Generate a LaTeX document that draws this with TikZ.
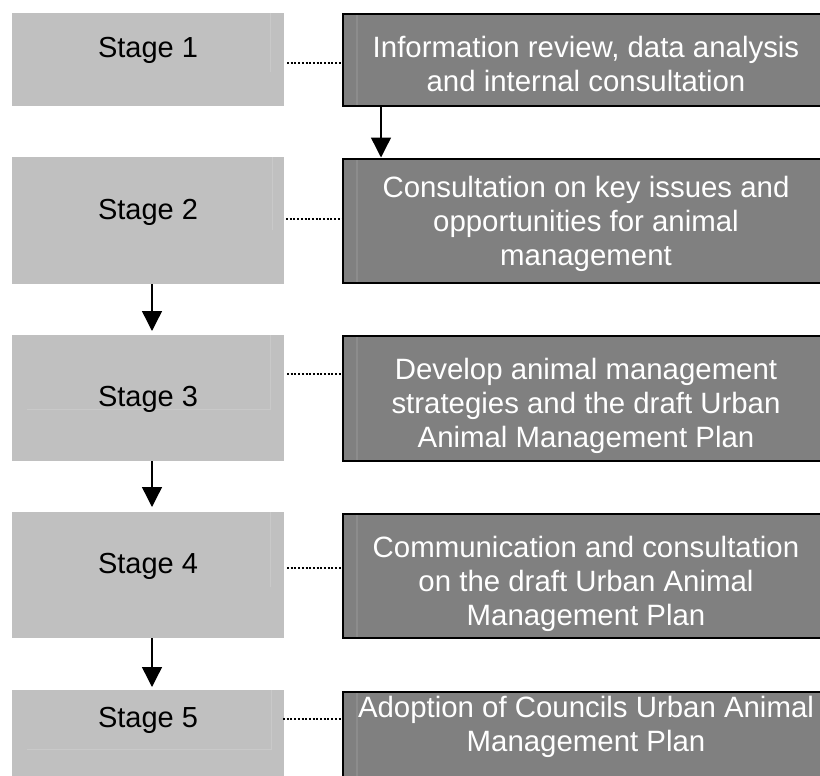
\documentclass[tikz,border=0pt]{standalone}
\usepackage{fontspec}
\setmainfont{Liberation Sans}
\usetikzlibrary{arrows.meta}
\definecolor{stagegray}{HTML}{C0C0C0}
\definecolor{boxgray}{HTML}{808080}
\definecolor{boxline}{HTML}{8C8C8C}
\definecolor{faintgray}{HTML}{C9C9C9}
\begin{document}
\begin{tikzpicture}[x=1pt,y=-1pt,
  stagebox/.style={fill=stagegray, draw=none, minimum width=272pt, inner sep=0pt, outer sep=0pt},
  darkbox/.style={fill=boxgray, draw=black, line width=2.6pt, minimum width=497pt, inner sep=0pt, outer sep=0pt},
  stagelabel/.style={font=\fontsize{29}{34}\selectfont, text=black, anchor=base, inner sep=0pt},
  darklabel/.style={font=\fontsize{29.4}{34}\selectfont, text=white, align=center, anchor=north, inner sep=0pt},
  flow/.style={line width=1.4pt, -{Triangle[width=20pt,length=20pt]}},
  dotlink/.style={line width=1.3pt, dash pattern=on 2pt off 1.7pt, draw=black},
  faint/.style={draw=faintgray, line width=0.8pt},
  innerline/.style={draw=boxline, line width=1.5pt, shorten <=1.3pt, shorten >=1.3pt}]
\useasboundingbox (0,0) rectangle (820,776);
\clip (0,0) rectangle (820,776);
\fill[white] (0,0) rectangle (820,776);

% stage boxes
\node[stagebox, minimum height=93pt]  (s1) at (148,59.5) {};
\node[stagebox, minimum height=127pt] (s2) at (148,220.5) {};
\node[stagebox, minimum height=126pt] (s3) at (148,398) {};
\node[stagebox, minimum height=126pt] (s4) at (148,575) {};
\node[stagebox, minimum height=130pt] (s5) at (148,755) {};

% faint inner edges in stage boxes
\draw[faint] (270,13) -- (270,72);
\draw[faint] (272,157) -- (272,230);
\draw[faint] (270,335) -- (270,409) -- (27,409);
\draw[faint] (270,512) -- (270,587);
\draw[faint] (271,690) -- (271,749) -- (27,749);

% dark boxes
\node[darkbox, minimum height=92pt]  (b1) at (591.5,60) {};
\node[darkbox, minimum height=124pt] (b2) at (591.5,221) {};
\node[darkbox, minimum height=125pt] (b3) at (591.5,398.5) {};
\node[darkbox, minimum height=124pt] (b4) at (591.5,576) {};
\node[darkbox, minimum height=138pt] (b5) at (591.5,761) {};

\coordinate (v) at (357,0);
\foreach \b in {b1,b2,b3,b4} {\draw[innerline] (v |- \b.north) -- (v |- \b.south);}
\draw[innerline, shorten >=0pt] (v |- b5.north) -- (v |- b5.south);

% labels
\node[stagelabel] (l1) at (148,58)  {Stage 1};
\node[stagelabel] (l2) at (148,219) {Stage 2};
\node[stagelabel] (l3) at (148,406) {Stage 3};
\node[stagelabel] (l4) at (148,573) {Stage 4};
\node[stagelabel] (l5) at (148,727) {Stage 5};

\node[darklabel] (t1) at (586,33.2)  {\strut Information review, data analysis\\and internal consultation};
\node[darklabel] (t2) at (586,173.2) {\strut Consultation on key issues and\\opportunities for animal\\management};
\node[darklabel] (t3) at (586,355.2) {\strut Develop animal management\\strategies and the draft Urban\\Animal Management Plan};
\node[darklabel] (t4) at (586,533.2) {\strut Communication and consultation\\on the draft Urban Animal\\Management Plan};
\node[darklabel] (t5) at (586,693.2) {\strut Adoption of Councils Urban Animal\\Management Plan};

% dotted links
\coordinate (p1) at (287,63);
\coordinate (p2) at (286,219);
\coordinate (p3) at (287,374);
\coordinate (p4) at (287,568);
\coordinate (p5) at (283,719);
\foreach \i in {1,...,5} {\draw[dotlink] (p\i) -- (p\i -| b\i.west);}

% arrows
\coordinate (c1) at (381,0);
\draw[flow, shorten >=1.5pt] (c1 |- b1.south) -- (c1 |- b2.north);
\coordinate (c2) at (152,0);
\draw[flow, shorten >=4pt] (c2 |- s2.south) -- (c2 |- s3.north);
\draw[flow, shorten >=5pt] (c2 |- s3.south) -- (c2 |- s4.north);
\draw[flow, shorten >=3pt] (c2 |- s4.south) -- (c2 |- s5.north);
\end{tikzpicture}
\end{document}
